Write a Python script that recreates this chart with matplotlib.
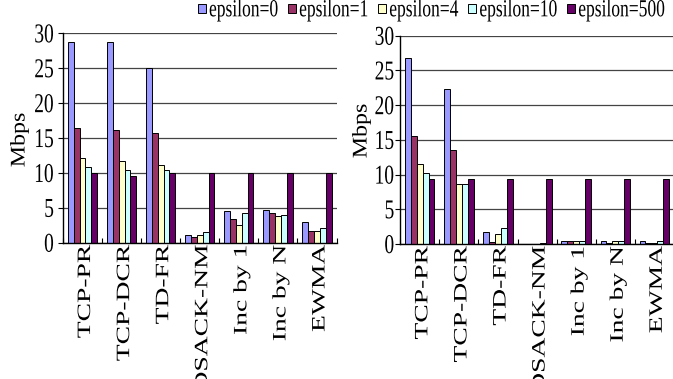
import matplotlib
matplotlib.use('Agg')
import matplotlib.pyplot as plt
from matplotlib import patheffects
from matplotlib.transforms import Affine2D
import numpy as np

plt.rcParams['font.family'] = ['Liberation Serif', 'DejaVu Serif']

categories = ['TCP-PR', 'TCP-DCR', 'TD-FR', 'DSACK-NM', 'Inc by 1', 'Inc by N', 'EWMA']
series = ['epsilon=0', 'epsilon=1', 'epsilon=4', 'epsilon=10', 'epsilon=500']
colors = ['#9999FF', '#993366', '#FFFFCC', '#CCFFFF', '#660066']

# left panel (Mbps)
left_e0 = [28.8, 28.7, 25.1, 1.1, 4.55, 4.75, 2.9]
left_e1 = [16.5, 16.1, 15.7, 0.86, 3.4, 4.2, 1.7]
left_e4 = [12.2, 11.7, 11.1, 1.1, 2.5, 3.8, 1.7]
left_e10 = [10.8, 10.4, 10.4, 1.5, 4.2, 4.0, 2.1]
left_e500 = [10.0, 9.5, 10.0, 10.0, 10.0, 10.0, 10.0]

# right panel (Mbps)
right_e0 = [26.8, 22.3, 1.7, 0.05, 0.4, 0.4, 0.4]
right_e1 = [15.6, 13.6, 0.3, 0.05, 0.4, 0.2, 0.2]
right_e4 = [11.5, 8.7, 1.5, 0.05, 0.4, 0.4, 0.2]
right_e10 = [10.2, 8.7, 2.25, 0.15, 0.4, 0.5, 0.4]
right_e500 = [9.3, 9.3, 9.3, 9.3, 9.3, 9.3, 9.3]

y_ticks = [0, 5, 10, 15, 20, 25, 30]


class Stretch(patheffects.AbstractPathEffect):
    # the reference text is drawn taller than it is wide, so stretch it vertically
    def __init__(self, sy, anchor='center', dx=0.0):
        super().__init__()
        self.sy = sy
        self.anchor = anchor
        self.dx = dx

    def draw_path(self, renderer, gc, tpath, affine, rgbFace=None):
        if len(tpath.vertices) == 0:
            return
        ys = affine.transform(tpath.vertices)[:, 1]
        if self.anchor == 'top':
            y0 = ys.max()
        elif self.anchor == 'bottom':
            y0 = ys.min()
        else:
            y0 = (ys.max() + ys.min()) / 2
        t = affine + Affine2D().translate(self.dx, -y0).scale(1, self.sy).translate(0, y0)
        renderer.draw_path(gc, tpath, t, rgbFace)


fig = plt.figure(figsize=(6.73, 3.79), dpi=100)
W, H = 673, 379
ax1 = fig.add_axes([63 / W, 1 - 242.7 / H, 273.5 / W, 209.4 / H])
ax2 = fig.add_axes([400.3 / W, 1 - 244 / H, 273.5 / W, 208.3 / H])

x = np.arange(len(categories))
bw = 0.15


def draw_panel(ax, data, label_pad):
    bars = []
    for i, vals in enumerate(data):
        b = ax.bar(x + (i - 2) * bw, vals, bw, color=colors[i], edgecolor='black',
                   linewidth=0.7, label=series[i], zorder=3)
        bars.append(b)
    ax.set_xlim(-0.5, len(categories) - 0.5)
    ax.set_ylim(0, 30)
    ax.set_yticks(y_ticks)
    ax.set_xticks(x)
    ax.set_xticklabels(categories, rotation=90)
    ax.set_xticks(np.arange(-0.5, len(categories), 1), minor=True)
    ax.tick_params(axis='x', which='major', length=0, pad=1.5, labelsize=13.6)
    ax.tick_params(axis='x', which='minor', direction='in', length=3.6, width=0.8)
    ax.tick_params(axis='y', direction='out', length=3.6, width=0.8, pad=label_pad, labelsize=14)
    ax.yaxis.grid(True, color='#444444', linewidth=0.9, zorder=0)
    ax.set_axisbelow(True)
    for s in ['top', 'right']:
        ax.spines[s].set_visible(False)
    for s in ['left', 'bottom']:
        ax.spines[s].set_linewidth(1.0)
        ax.spines[s].set_zorder(4)
    for lab in ax.get_xticklabels():
        lab.set_path_effects([Stretch(1.46, 'top', dx=3)])
    for lab in ax.get_yticklabels():
        lab.set_path_effects([Stretch(1.4, 'center')])
    return bars


bars = draw_panel(ax1, [left_e0, left_e1, left_e4, left_e10, left_e500], 3.0)
draw_panel(ax2, [right_e0, right_e1, right_e4, right_e10, right_e500], 0.8)

for xp, yp in [(20, 140), (362, 131)]:
    t = fig.text(xp / W, 1 - yp / H, 'Mbps', rotation=90, ha='center', va='center', fontsize=15)
    t.set_path_effects([Stretch(1.15, 'center')])

leg = fig.legend(bars, series, loc='upper left', bbox_to_anchor=(195 / W, 1.0), ncol=5,
                 frameon=False, fontsize=12.6, handlelength=0.45, handleheight=0.45,
                 handletextpad=0.2, columnspacing=0.55, borderaxespad=0, borderpad=0.15)
for t in leg.get_texts():
    t.set_path_effects([Stretch(1.4, 'center')])

fig.savefig('out.png', dpi=100)
